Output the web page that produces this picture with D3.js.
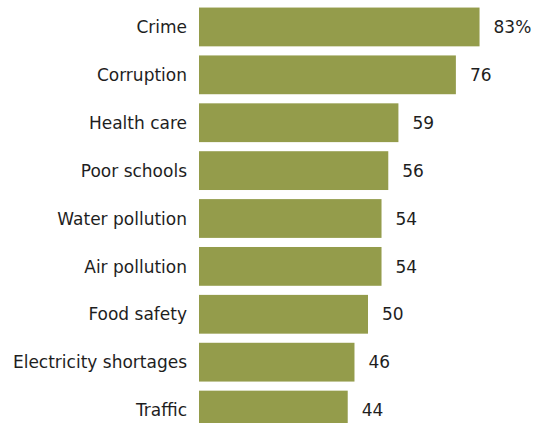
<!DOCTYPE html>
<html lang="en">

<head>
    <meta charset="UTF-8">
    <title>Top problems</title>
    <script src="https://d3js.org/d3.v7.min.js"></script>
    <style>
        body {
            margin: 0;
            padding: 0;
            overflow: hidden;
            background: #fff;
        }

        .label,
        .value {
            font-family: "DejaVu Sans", sans-serif;
            font-size: 17px;
            fill: #1e1e1e;
        }

        .bar {
            fill: #949c4b;
        }
    </style>
</head>

<body>
<div id="chart"></div>

<script>
    // data
    const categories = ["Crime", "Corruption", "Health care", "Poor schools", "Water pollution",
        "Air pollution", "Food safety", "Electricity shortages", "Traffic"];
    const values = [83, 76, 59, 56, 54, 54, 50, 46, 44];

    const data = categories.map((c, i) => ({ name: c, value: values[i] }));

    // sizes
    const width = 533;
    const height = 423;
    const margin = { left: 199 };

    const svg = d3.select("#chart")
        .append("svg")
        .attr("width", width)
        .attr("height", height);

    // scales
    const xScale = d3.scaleLinear()
        .domain([0, 100])
        .range([margin.left, margin.left + 338]);

    const yScale = d3.scaleBand()
        .domain(categories)
        .range([3, 434])
        .paddingInner(0.19)
        .paddingOuter(0.095);

    // bars
    svg.selectAll(".bar")
        .data(data)
        .enter().append("rect")
        .attr("class", "bar")
        .attr("x", xScale(0))
        .attr("y", d => yScale(d.name))
        .attr("width", d => xScale(d.value) - xScale(0))
        .attr("height", yScale.bandwidth());

    // category labels
    svg.selectAll(".label")
        .data(data)
        .enter().append("text")
        .attr("class", "label")
        .attr("x", xScale(0) - 12)
        .attr("y", d => yScale(d.name) + yScale.bandwidth() / 2)
        .attr("dy", "0.36em")
        .attr("text-anchor", "end")
        .text(d => d.name);

    // value labels
    svg.selectAll(".value")
        .data(data)
        .enter().append("text")
        .attr("class", "value")
        .attr("x", d => xScale(d.value) + 14)
        .attr("y", d => yScale(d.name) + yScale.bandwidth() / 2)
        .attr("dy", "0.36em")
        .text((d, i) => i === 0 ? d.value + "%" : d.value);
</script>
</body>

</html>
